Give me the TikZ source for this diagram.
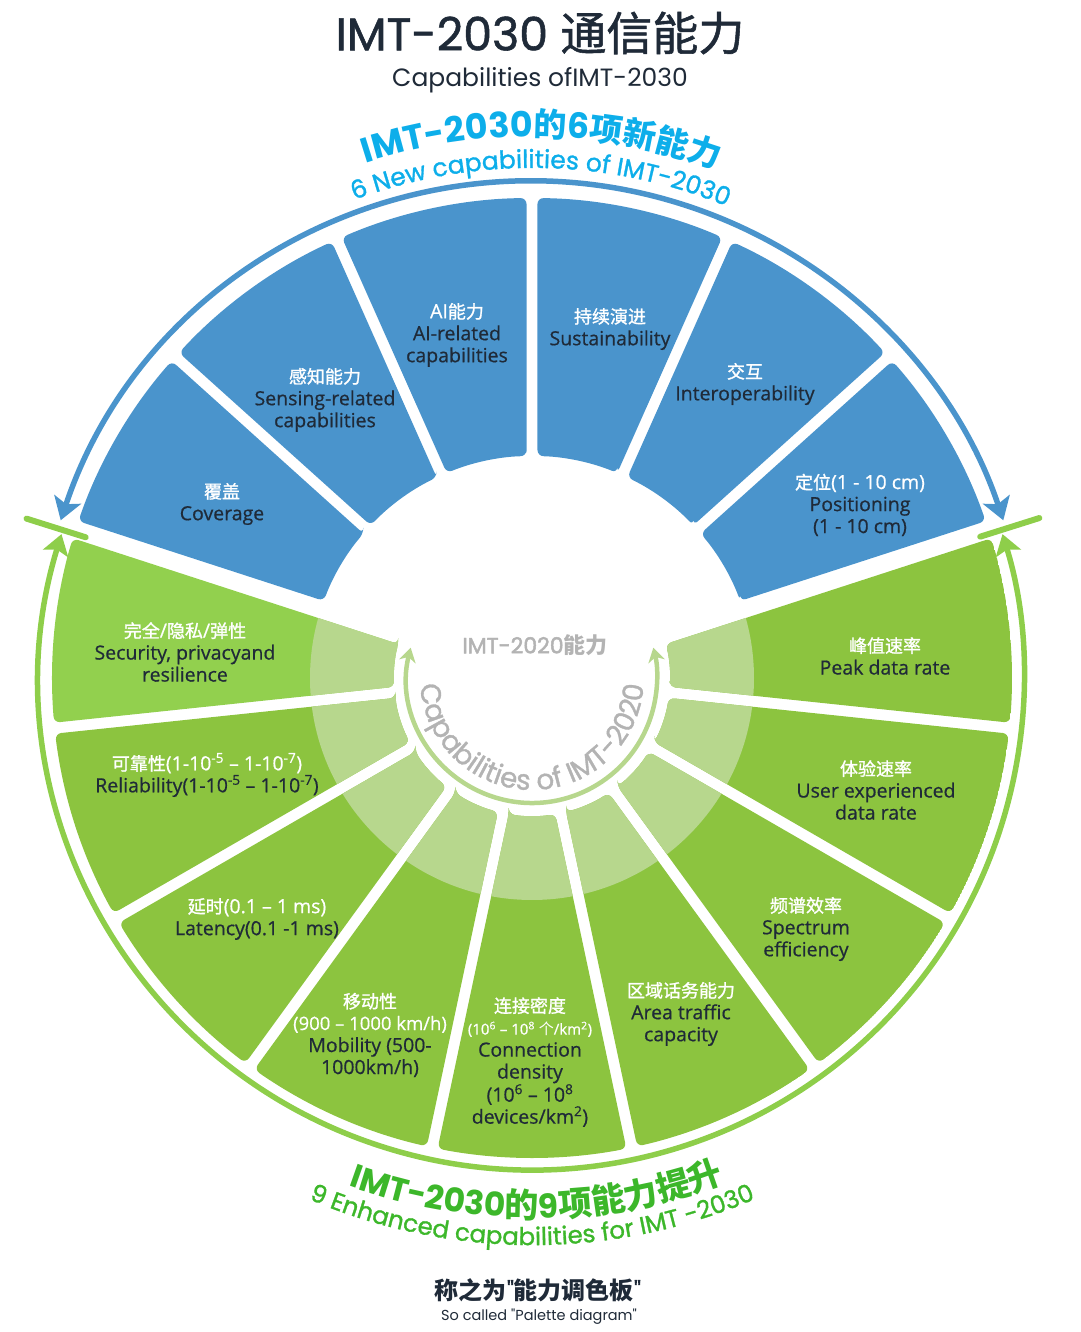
\documentclass[tikz,border=0pt]{standalone}
\usepackage{fontspec}
\setmainfont{Open Sans}[FakeBold=0.6]
\newfontfamily\cjk{Noto Sans CJK SC}
\newfontfamily\cjkmed{Noto Sans CJK SC}[FakeBold=1.2]
\newfontfamily\geo{Poppins}
\newfontfamily\geomed{Poppins}[FakeBold=1.2]
\newfontfamily\geosemi{Poppins}[FakeBold=2.2]
\usetikzlibrary{arrows.meta,decorations.text}

\definecolor{imtblue}{HTML}{4A94CC}
\definecolor{imtgreen}{HTML}{8CC43F}
\definecolor{imtgreenb}{HTML}{92D04E}
\definecolor{imtlight}{HTML}{B7D78D}
\definecolor{arcgreen}{HTML}{8ECE4A}
\definecolor{titlecyan}{HTML}{0DAEEA}
\definecolor{titlegreen}{HTML}{3CB72A}
\definecolor{textdark}{HTML}{1F2A38}
\definecolor{oldgray}{HTML}{B3B3B3}

\newcommand{\fs}[2]{\fontsize{#1}{#2}\selectfont}
\newcommand{\wt}[1]{\textcolor{white}{#1}}
\newcommand{\zh}[1]{{\cjkmed\fs{18}{22}#1}}
\newcommand{\sps}[1]{\textsuperscript{#1}}
% fonts for the curved texts
\newcommand{\cyanL}{\fs{35}{35}\geo\bfseries}
\newcommand{\cyanZ}{\fs{33}{33}\cjk\bfseries}
\newcommand{\cyansmall}{\fs{25}{25}\geomed}
\newcommand{\greenL}{\fs{33}{33}\geo\bfseries}
\newcommand{\greenZ}{\fs{34}{34}\cjk\bfseries}
\newcommand{\greensmall}{\fs{24.5}{24.5}\geomed}
\newcommand{\oldfont}{\fs{28}{28}\geomed}

\tikzset{
  lbl/.style={align=center, inner sep=0pt, text=textdark, font=\fs{19.5}{22}},
}

\begin{document}
\begin{tikzpicture}[x=1pt,y=1pt]
	\useasboundingbox (-532,-654) rectangle (548,678);
	
	% titles
	\node[text=textdark] (title) at (8,645) {\fs{46}{50}\geomed IMT-2030 {\cjkmed 通信能力}};
	\node[text=textdark] (subtitle) at (8,598) {\fs{25}{28}\geo Capabilities ofIMT-2030};
	
	% 6 new capabilities (blue)
	\foreach \a/\ga/\gb in {18/9/5.5, 42/5.5/5.5, 66/5.5/5.5, 90/5.5/5.5, 114/5.5/5.5, 138/5.5/9}{
		\pgfmathsetmacro\ai{\a+asin(\ga/222)}
		\pgfmathsetmacro\ao{\a+asin(\ga/480)}
		\pgfmathsetmacro\bi{\a+24-asin(\gb/222)}
		\pgfmathsetmacro\bo{\a+24-asin(\gb/480)}
		\fill[imtblue, rounded corners=6pt] (\ai:222) -- (\ao:480) arc[start angle=\ao, end angle=\bo, radius=480] -- (\bi:222) arc[start angle=\bi, end angle=\ai, radius=222] -- cycle;
	}
	
	% 9 enhanced capabilities (green), IMT-2020 part lighter
	\foreach \a/\ga/\gb/\col in {162/9/5.5/imtgreenb, 186/5.5/5.5/imtgreen, 210/5.5/5.5/imtgreen, 234/5.5/5.5/imtgreen, 258/5.5/5.5/imtgreen, 282/5.5/5.5/imtgreen, 306/5.5/5.5/imtgreen, 330/5.5/5.5/imtgreen, 354/5.5/9/imtgreen}{
		\pgfmathsetmacro\ai{\a+asin(\ga/138)}
		\pgfmathsetmacro\ao{\a+asin(\ga/480)}
		\pgfmathsetmacro\bi{\a+24-asin(\gb/138)}
		\pgfmathsetmacro\bo{\a+24-asin(\gb/480)}
		\begin{scope}
			\clip[rounded corners=6pt] (\ai:138) -- (\ao:480) arc[start angle=\ao, end angle=\bo, radius=480] -- (\bi:138) arc[start angle=\bi, end angle=\ai, radius=138] -- cycle;
			\fill[\col] (0,0) circle[radius=480];
			\fill[imtlight] (0,0) circle[radius=222];
		\end{scope}
	}
	
	% outer arrows
	\draw[imtblue, line width=5.5pt, {Stealth[length=22pt,width=28pt,inset=5pt]}-{Stealth[length=22pt,width=28pt,inset=5pt]}] (161.5:497) arc[start angle=161.5, end angle=18.5, radius=497];
	\draw[arcgreen, line width=5.5pt, {Stealth[length=20pt,width=26pt,inset=4pt]}-{Stealth[length=20pt,width=26pt,inset=4pt]}] (163:492) arc[start angle=163, end angle=377, radius=492];
	\draw[arcgreen, line width=6pt, line cap=round] (162.5:468) -- (162.5:530);
	\draw[arcgreen, line width=6pt, line cap=round] (17.5:470) -- (17.5:532);
	
	% inner arrow
	\draw[imtlight, line width=4.5pt, {Stealth[length=14pt,width=17pt]}-{Stealth[length=14pt,width=17pt]}] (166:125) arc[start angle=166, end angle=374, radius=125];
	
	% curved texts
	\path[decorate, decoration={text along path, text align=center, text color=titlecyan, text={|\cyanL|IMT-2030|\cyanZ|的|\cyanL|6|\cyanZ|项新能力}}] (149:541) arc[start angle=149, end angle=29, radius=541];
	\path[decorate, decoration={text along path, text align=center, text color=titlecyan, text={|\cyansmall|6 New capabilities of IMT-2030}}] (149:510) arc[start angle=149, end angle=29, radius=510];
	\path[decorate, decoration={text along path, text align=center, text color=titlegreen, text={|\greenL|IMT-2030|\greenZ|的|\greenL|9|\greenZ|项能力提升}}] (210.5:540) arc[start angle=210.5, end angle=330.5, radius=540];
	\path[decorate, decoration={text along path, text align=center, text color=titlegreen, text={|\greensmall|9 Enhanced capabilities for IMT -2030}}] (205:567) arc[start angle=205, end angle=335, radius=567];
	\path[decorate, decoration={text along path, text align=center, text color=oldgray, text={|\oldfont|Capabilities of IMT-2020}}] (160:112) arc[start angle=160, end angle=380, radius=112];
	
	\node[text=oldgray] (imt20) at (3,33) {\fs{22}{24}\geosemi IMT-2020{\cjk\bfseries 能力}};
	
	% blue labels
	\node[lbl] (cov) at (-310,174) {\wt{\zh{覆盖}}\\Coverage};
	\node[lbl] (sens) at (-207,278) {\wt{\zh{感知能力}}\\Sensing-related\\capabilities};
	\node[lbl] (ai) at (-75,343) {\wt{AI\zh{能力}}\\AI-related\\capabilities};
	\node[lbl] (sust) at (78,349) {\wt{\zh{持续演进}}\\Sustainability};
	\node[lbl] (inter) at (213,294) {\wt{\zh{交互}}\\Interoperability};
	\node[lbl] (pos) at (328,173) {\wt{\zh{定位}(1 - 10 cm)}\\Positioning\\(1 - 10 cm)};
	
	% green labels
	\node[lbl] (sec) at (-347,26) {\wt{\zh{完全}/\zh{隐私}/\zh{弹性}}\\Security, privacyand\\resilience};
	\node[lbl] (rel) at (-325,-97) {\wt{\zh{可靠性}(1-10\sps{-5} – 1-10\sps{-7})}\\Reliability(1-10\sps{-5} – 1-10\sps{-7})};
	\node[lbl] (lat) at (-275,-241) {\wt{\zh{延时}(0.1 – 1 ms)}\\Latency(0.1 -1 ms)};
	\node[lbl] (mob) at (-162,-357) {\wt{\zh{移动性}}\\\wt{\fs{18.5}{22}(900 – 1000 km/h)}\\Mobility (500-\\1000km/h)};
	\node[lbl] (conn) at (-2,-384) {\wt{\zh{连接密度}}\\\wt{\fs{15}{22}(10\sps{6} – 10\sps{8} {\cjk 个}/km\sps{2})}\\Connection\\density\\(10\sps{6} – 10\sps{8}\\devices/km\sps{2})};
	\node[lbl] (area) at (149,-336) {\wt{\zh{区域话务能力}}\\Area traffic\\capacity};
	\node[lbl] (spec) at (274,-251) {\wt{\zh{频谱效率}}\\Spectrum\\efficiency};
	\node[lbl] (user) at (344,-112) {\wt{\zh{体验速率}}\\User experienced\\data rate};
	\node[lbl] (peak) at (353,22) {\wt{\zh{峰值速率}}\\Peak data rate};
	
	% bottom
	\node[text=textdark] (pal) at (6,-612) {\fs{24}{26}{\cjk\bfseries 称之为}{\geomed"}{\cjk\bfseries 能力调色板}{\geomed"}};
	\node[text=textdark] (palen) at (7,-639) {\fs{14.5}{16}\geo So called "Palette diagram"};
	
\end{tikzpicture}
\end{document}
